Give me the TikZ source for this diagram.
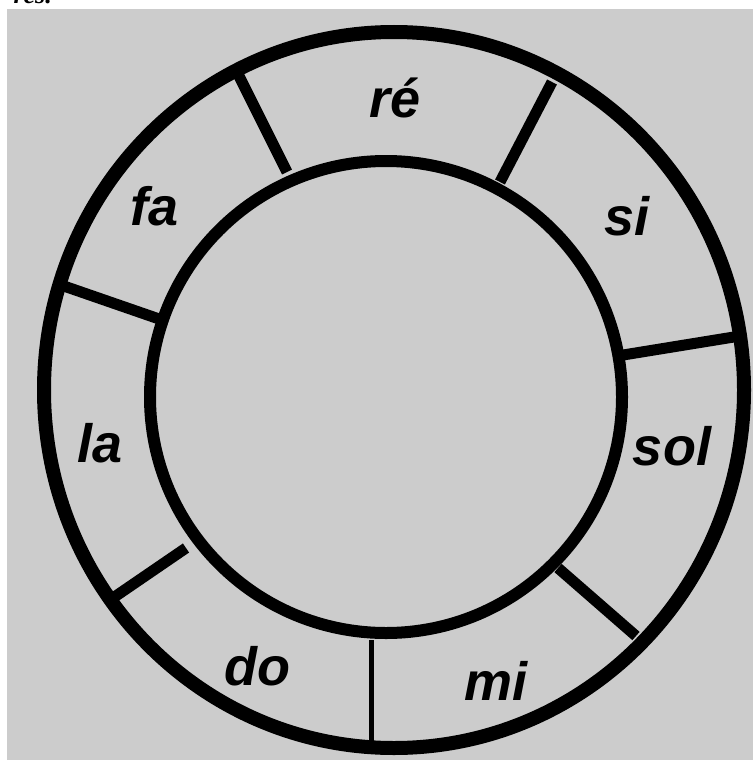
\documentclass[tikz,border=0pt]{standalone}
\usepackage{fontspec}
\newfontfamily\labfont{Liberation Sans}
\newfontfamily\serfont{Liberation Serif}
\definecolor{bggray}{HTML}{CCCCCC}
\tikzset{
  ring/.style={draw=black, line width=14pt},
  inner ring/.style={draw=black, line width=12pt},
  divider/.style={draw=black, line width=11pt},
  thin divider/.style={draw=black, line width=5pt},
  note/.style={font=\labfont\bfseries\itshape\fontsize{54}{54}\selectfont, anchor=base, inner sep=0pt},
}
\begin{document}
\begin{tikzpicture}[x=1pt,y=-1pt]
\useasboundingbox (0,0) rectangle (753,760);
\fill[white] (0,0) rectangle (753,760);
\fill[bggray] (7,9) rectangle (753,760);
\node[font=\serfont\bfseries\itshape\fontsize{26}{26}\selectfont, anchor=base east, inner sep=0pt] (hdr) at (52,4) {res.};
% dividers
\draw[divider] (237,72) -- (287,172);
\draw[divider] (552,82) -- (500,182);
\draw[divider] (617,356) -- (740,336);
\draw[divider] (558,568) -- (636,636);
\draw[divider] (186,548) -- (110,600);
\draw[divider] (58,284) -- (162,320);
\draw[thin divider] (371,640) -- (371,750);
% rings
\draw[ring] (394,390) ellipse [x radius=350pt, y radius=358pt];
\draw[inner ring] (386,397) circle [radius=236pt];
% labels
\node[note] (re) at (395,117) {ré};
\node[note] (si) at (627,235) {si};
\node[note] (sol) at (672,465) {sol};
\node[note] (mi) at (496,700) {mi};
\node[note] (do) at (257,685) {do};
\node[note] (la) at (100,462) {la};
\node[note] (fa) at (155,225) {fa};
\end{tikzpicture}
\end{document}
